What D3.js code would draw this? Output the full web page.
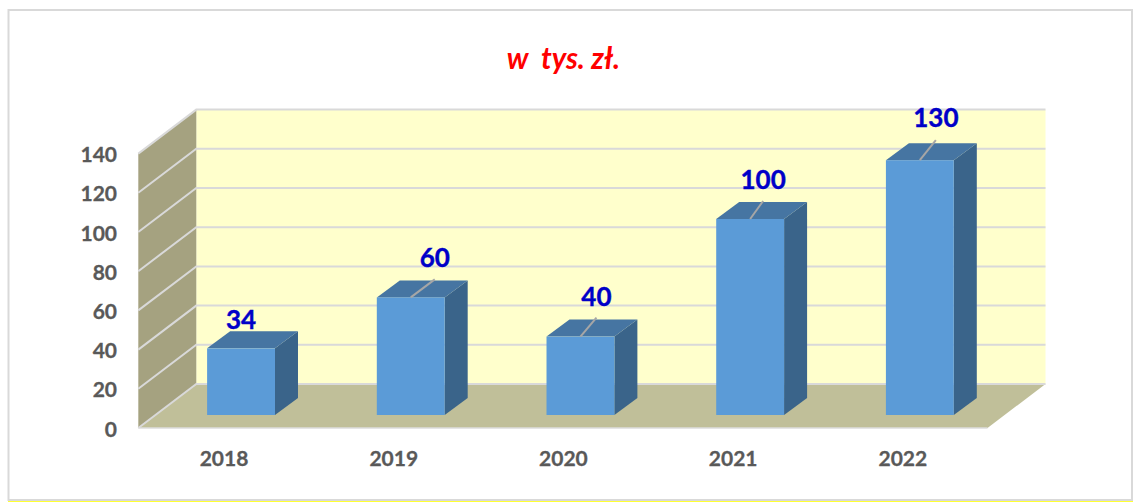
<!DOCTYPE html>
<html><head><meta charset="utf-8">
<script src="https://cdn.jsdelivr.net/npm/d3@7"></script>
<style>html,body{margin:0;padding:0;background:#fff}svg{display:block}</style>
</head><body><svg id="c" width="1133" height="502"></svg>
<script>
const categories = ["2018","2019","2020","2021","2022"];
const values = [34,60,40,100,130];
const yTicks = [0,20,40,60,80,100,120,140];
const titleText = "w  tys. zł.";

const svg = d3.select("#c");
const font = "Lato, Carlito, 'Open Sans', sans-serif";
svg.append("rect").attr("x",8.5).attr("y",10).attr("width",1123.5).attr("height",490).attr("fill","#fff").attr("stroke","#d9d9d9").attr("stroke-width",2);
svg.append("line").attr("x1",8).attr("x2",1133).attr("y1",501.5).attr("y2",501.5).attr("stroke","#ffff33").attr("stroke-width",1);

const wallY = d3.scaleLinear().domain([0,140]).range([428,153.6]);
const barY = d3.scaleLinear().domain([0,140]).range([415,140.6]);
const x = d3.scaleBand().domain(categories).range([156.2,1004.7]).paddingInner(0.6).paddingOuter(0.3);
const fx0=138.3, fx1=987.5, dx=58, dy=-44, bdx=23, bdy=-17;
const pts=a=>a.map(p=>p.join(",")).join(" ");

svg.append("polygon").attr("points",pts([[fx0+dx,wallY(0)+dy],[fx1+dx,wallY(0)+dy],[fx1+dx,wallY(140)+dy],[fx0+dx,wallY(140)+dy]])).attr("fill","#ffffcc");
svg.append("polygon").attr("points",pts([[fx0,wallY(0)],[fx0+dx,wallY(0)+dy],[fx0+dx,wallY(140)+dy],[fx0,wallY(140)]])).attr("fill","#a5a280");
svg.append("polygon").attr("points",pts([[fx0,wallY(0)],[fx1,wallY(0)],[fx1+dx,wallY(0)+dy],[fx0+dx,wallY(0)+dy]])).attr("fill","#c0bf99");

const grid = d3.line();
yTicks.forEach(t=>{
  svg.append("path").attr("d",grid([[fx0,wallY(t)],[fx0+dx,wallY(t)+dy],[fx1+dx,wallY(t)+dy]])).attr("fill","none").attr("stroke","#d9d9d9").attr("stroke-width",2);
});
svg.append("line").attr("x1",fx0).attr("x2",fx1).attr("y1",wallY(0)).attr("y2",wallY(0)).attr("stroke","#dcdcdc").attr("stroke-width",1.5);

svg.selectAll("text.yt").data(yTicks).join("text").attr("class","yt")
  .attr("x",117).attr("y",d=>wallY(d)+8.5).attr("text-anchor","end")
  .attr("font-family",font).attr("font-weight",700).attr("font-size",21).attr("stroke","#595959").attr("stroke-width",0.3).attr("fill","#595959").text(d=>d);
svg.selectAll("text.xt").data(categories).join("text").attr("class","xt")
  .attr("x",d=>x(d)+x.bandwidth()/2-17).attr("y",466).attr("text-anchor","middle")
  .attr("font-family",font).attr("font-weight",700).attr("font-size",21).attr("stroke","#595959").attr("stroke-width",0.3).attr("fill","#595959").text(d=>d);

const rows = categories.map((c,i)=>({c,v:values[i]}));
const g = svg.selectAll("g.bar").data(rows).join("g").attr("class","bar");
g.append("polygon").attr("fill","#3a648a").attr("points",d=>{const r=x(d.c)+x.bandwidth(),t=barY(d.v),b=barY(0);return pts([[r,b],[r+bdx,b+bdy],[r+bdx,t+bdy],[r,t]]);});
g.append("polygon").attr("fill","#4675a2").attr("points",d=>{const l=x(d.c),r=l+x.bandwidth(),t=barY(d.v);return pts([[l,t],[r,t],[r+bdx,t+bdy],[l+bdx,t+bdy]]);});
g.append("rect").attr("fill","#5b9bd7").attr("x",d=>x(d.c)).attr("width",x.bandwidth()).attr("y",d=>barY(d.v)).attr("height",d=>barY(0)-barY(d.v));

// leader offsets [dx, dy] from bar-top centre
const leader = [[0,0],[24,-18],[16,-19],[13,-18],[16,-20]];
const labelGap = [-28,-39,-40,-39,-42];
rows.forEach((d,i)=>{
  const cx=x(d.c)+x.bandwidth()/2, t=barY(d.v), [lx,ly]=leader[i];
  if(lx>0){
    svg.append("line").attr("x1",cx).attr("y1",t).attr("x2",cx+lx).attr("y2",t+ly).attr("stroke","#a6a6a6").attr("stroke-width",2);
  }
  svg.append("text").attr("x",cx+lx).attr("y",t+labelGap[i]+9).attr("text-anchor","middle")
    .attr("font-family",font).attr("font-weight",700).attr("font-size",26).attr("stroke","#0000c8").attr("stroke-width",0.4).attr("fill","#0000c8").text(d.v);
});

svg.append("text").attr("x",563.5).attr("y",69).attr("text-anchor","middle").style("white-space","pre")
  .attr("font-family",font).attr("font-weight",700).attr("font-style","italic").attr("font-size",29.5).attr("fill","#ff0000").text(titleText);
</script></body></html>
